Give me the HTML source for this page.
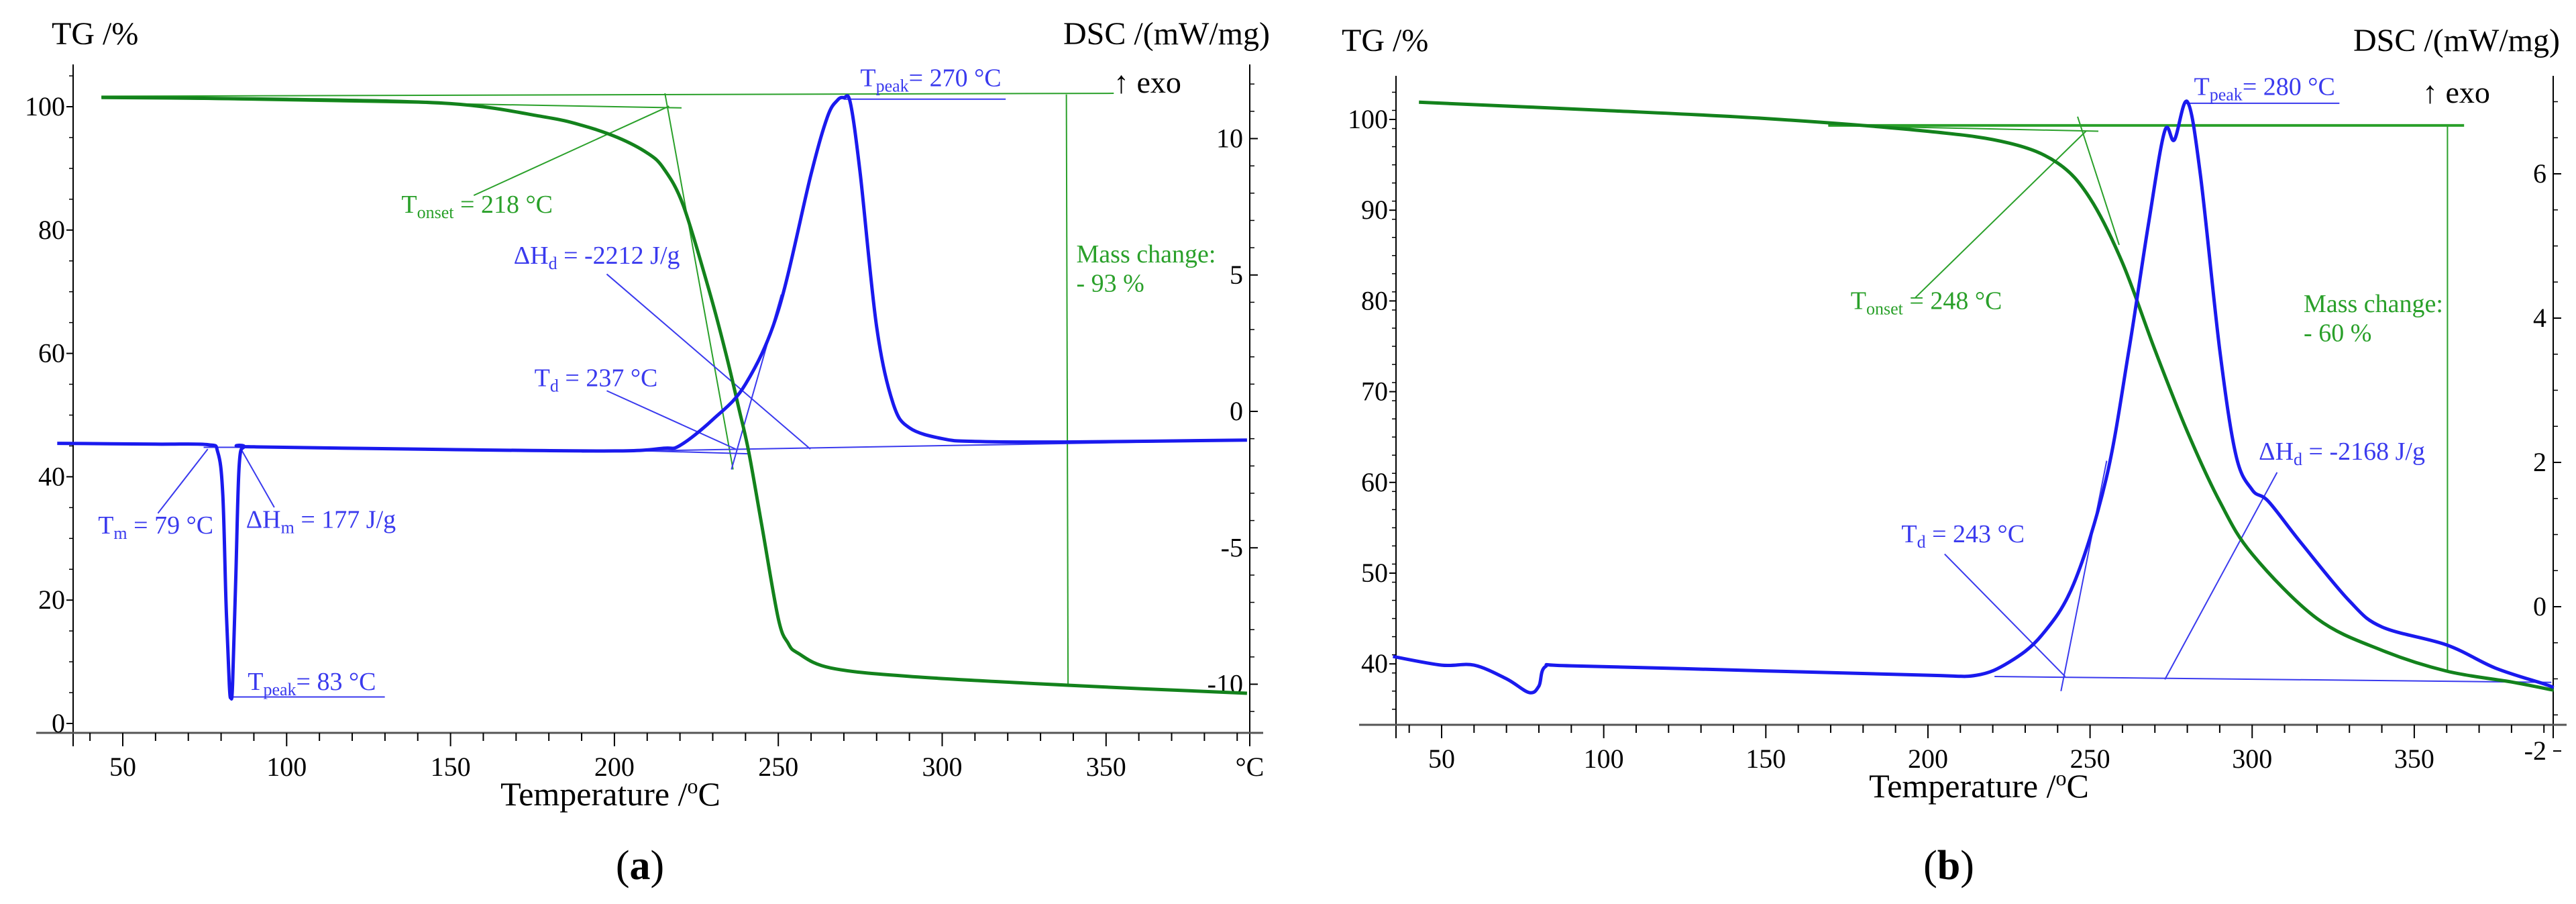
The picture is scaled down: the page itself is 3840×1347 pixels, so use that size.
<!DOCTYPE html>
<html><head><meta charset="utf-8"><style>
html,body{margin:0;padding:0;background:#fff;}
svg{display:block;font-family:"Liberation Serif",serif;}
</style></head><body>
<svg id="fig" width="3840" height="1347" viewBox="0 0 3840 1347"></svg>
<script>
// ---------- Data panel (a) ----------
const aTgT   = [43.5,100,150,178,190,201,210,215,221,229,234,238,241,245,250,253,256,266,291,342,393];
const aTgV   = [101.5,101.2,100.5,98.4,97,95,92.5,90,84,70,60,51,44,32,17,13,11.4,9,7.6,6.1,4.9];
const aDscT  = [30,60,76,79,80.5,81.5,82.5,83,83.5,84.5,85.5,87,90,150,200,215,220,230,240,250,260,265,268,270,272,275,280,285,290,300,310,340,393];
const aDscV  = [-1.17,-1.2,-1.22,-1.5,-3,-7,-10,-10.5,-10,-6,-2,-1.3,-1.3,-1.4,-1.45,-1.35,-1.25,-0.3,1.0,3.7,8.7,10.8,11.4,11.5,11.3,8.7,3.1,0.3,-0.6,-1.0,-1.1,-1.12,-1.05];
const aXTicks = [50,100,150,200,250,300,350];
const aYTicks = [0,20,40,60,80,100];
const aY2Ticks = [-10,-5,0,5,10];
// ---------- Data panel (b) ----------
const bTgT   = [43,100,150,200,225,240,250,260,270,280,290,300,320,340,360,380,393];
const bTgV   = [101.9,101,100.1,98.7,97.4,95.2,91.3,84.2,74.6,65.6,57.9,52.1,45,41.5,39.2,38,37.1];
const bDscT  = [35,50,60,70,77,80,82,90,150,200,215,225,235,245,255,262,268,273,276,280,284,290,295,300,305,315,330,340,360,375,390,393];
const bDscV  = [-0.69,-0.81,-0.81,-1.0,-1.19,-1.1,-0.83,-0.82,-0.89,-0.95,-0.95,-0.77,-0.4,0.32,1.78,3.56,5.3,6.59,6.47,7.0,6.0,3.56,2.1,1.62,1.46,0.89,0.08,-0.28,-0.53,-0.85,-1.07,-1.12];
const bXTicks = [50,100,150,200,250,300,350];
const bYTicks = [40,50,60,70,80,90,100];
const bY2Ticks = [-2,0,2,4,6];

const NS="http://www.w3.org/2000/svg";
const svg=document.getElementById('fig');
function el(tag,attrs,parent){const e=document.createElementNS(NS,tag);for(const k in attrs)e.setAttribute(k,attrs[k]);(parent||svg).appendChild(e);return e;}
function txt(x,y,s,size,fill,anchor,parent){const t=el('text',{x:x,y:y,'font-size':size,fill:fill||'#000','text-anchor':anchor||'start'},parent);t.textContent=s;return t;}
function smooth(pts){let d='M'+pts[0][0].toFixed(1)+' '+pts[0][1].toFixed(1);
  for(let i=0;i<pts.length-1;i++){const p0=pts[i-1]||pts[i],p1=pts[i],p2=pts[i+1],p3=pts[i+2]||p2;
    const c1=[p1[0]+(p2[0]-p0[0])/6,p1[1]+(p2[1]-p0[1])/6],c2=[p2[0]-(p3[0]-p1[0])/6,p2[1]-(p3[1]-p1[1])/6];
    d+=' C'+c1.map(v=>v.toFixed(1)).join(' ')+' '+c2.map(v=>v.toFixed(1)).join(' ')+' '+p2[0].toFixed(1)+' '+p2[1].toFixed(1);}
  return d;}

function panel(p){
  const g=el('g',{});
  
  
  const X=t=>p.x0+(t-50)*p.kx;
  const Y=v=>p.y0-(v-p.yv0)*p.ky;
  const Y2=v=>p.y20-v*p.ky2;
  const Z=(zx,zy)=>[zx*1.239+p.off, zy*0.869];
  const ax=el('line',{x1:p.axL,y1:p.axT,x2:p.axL,y2:p.axB+20,stroke:'#000','stroke-width':2},g);
  
  const ax2=el('line',{x1:p.axR,y1:p.axT,x2:p.axR,y2:p.axB+20,stroke:'#000','stroke-width':2},g);
  
  const xa=el('line',{x1:p.axL-55,y1:p.axB,x2:p.axR+20,y2:p.axB,stroke:'#555','stroke-width':3},g);
  
  for(let t=40;t<=390;t+=10){const x=X(t);if(x<p.axL-50||x>p.axR)continue;
    const tk=el('line',{x1:x,y1:p.axB,x2:x,y2:p.axB+(t%50==0?20:12),stroke:'#000','stroke-width':2},g);
    }
  p.xt.forEach(t=>{const l=txt(X(t),p.axB+64,String(t),40,'#000','middle',g);
    });
  p.yt.forEach(v=>{const l=txt(p.axL-12,Y(v)+13,String(v),40,'#000','end',g);
    
    const tk=el('line',{x1:p.axL-10,y1:Y(v),x2:p.axL,y2:Y(v),stroke:'#000','stroke-width':2},g);
    });
  for(let v=p.ymin;v<=p.ymax;v+=p.yminor){const y=Y(v);if(y<p.axT||y>p.axB)continue;
    const tk=el('line',{x1:p.axL-6,y1:y,x2:p.axL,y2:y,stroke:'#000','stroke-width':1.5},g);
    }
  p.y2t.forEach(v=>{const l=txt(p.axR-10,Y2(v)+13,String(v),40,'#000','end',g);
    
    const tk=el('line',{x1:p.axR,y1:Y2(v),x2:p.axR+12,y2:Y2(v),stroke:'#000','stroke-width':2},g);
    });
  for(let v=p.y2min;v<=p.y2max;v+=p.y2minor){const y=Y2(v);if(y<p.axT||y>p.axB)continue;
    const tk=el('line',{x1:p.axR,y1:y,x2:p.axR+7,y2:y,stroke:'#000','stroke-width':1.5},g);
    }
  let l=txt(p.tgX,p.tgY,'TG /%',48,'#000','start',g);
  l=txt(p.dscX,p.tgY,'DSC /(mW/mg)',48,'#000','end',g);
  l=txt(p.exoX,p.exoY,'↑ exo',46,'#000','start',g);
  l=txt(p.tempX,p.tempY,'Temperature /',50,'#000','middle',g);
  const sup=el('tspan',{'baseline-shift':'super','font-size':32},l);sup.textContent='o';
  const c=el('tspan',{},l);c.textContent='C';
  
  l=txt(p.capX,1310,'(',62,'#000','middle',g);
  const b=el('tspan',{'font-weight':'bold'},l);b.textContent=p.cap;const b2=el('tspan',{},l);b2.textContent=')';
  
  if(p.degC){l=txt(p.axR,p.axB+64,'°C',40,'#000','middle',g);}
  p.lines.forEach(([col,a,bq,c2,d,w])=>{const s=Z(a,bq),e=Z(c2,d);
    const ln=el('line',{x1:s[0],y1:s[1],x2:e[0],y2:e[1],stroke:col,'stroke-width':w||2},g);
    });
  const tg=el('path',{d:smooth(p.tgT.map((t,i)=>[X(t),Y(p.tgV[i])])),fill:'none',stroke:'#13821c','stroke-width':5,'stroke-linejoin':'round'},g);
  
  const ds=el('path',{d:smooth(p.dT.map((t,i)=>[X(t),Y2(p.dV[i])])),fill:'none',stroke:'#1a1aee','stroke-width':5,'stroke-linejoin':'round'},g);
  
  p.texts.forEach(([col,zx,zy,main,sub,rest,name])=>{const q=Z(zx,zy);
    const t=el('text',{x:q[0],y:q[1],'font-size':38,fill:col},g);
    const a1=el('tspan',{},t);a1.textContent=main;
    if(sub){const a2=el('tspan',{'font-size':26,dy:8},t);a2.textContent=sub;const a3=el('tspan',{dy:-8},t);a3.textContent=rest;}
    });
}

const G='#2aa02a',B='#3a3aee';
panel({name:'panel-a',off:0,x0:183,kx:4.886,y0:159,yv0:100,ky:9.19,y20:613,ky2:40.65,
  axL:109,axR:1863,axT:96,axB:1092,xt:aXTicks,yt:aYTicks,y2t:aY2Ticks,ymin:0,ymax:105,yminor:5,y2min:-12,y2max:12,y2minor:1,
  tgX:77,tgY:66,dscX:1893,exoX:1660,exoY:138,tempX:910,tempY:1200,capX:954,cap:'a',degC:true,
  tgT:aTgT,tgV:aTgV,dT:aDscT,dV:aDscV,
  lines:[[G,122,165,1340,160],[G,122,167,820,185],[G,800,160,882,805],[G,570,335,805,182],[G,1283,162,1285,1172],
    [B,1015,170,1210,170],[B,280,1195,463,1195],[B,190,880,250,770],[B,330,870,290,770],[B,245,767,300,767],
    [B,730,470,975,770],[B,730,670,885,770],[B,700,775,1500,755],[B,880,805,940,505],[B,750,772,900,778]],
  texts:[[G,483,365,'T','onset',' = 218 °C','tonset-label'],[B,618,452,'ΔH','d',' = -2212 J/g','dhd-label'],
    [B,643,662,'T','d',' = 237 °C','td-label'],[B,1035,148,'T','peak','= 270 °C','tpeak-label'],
    [B,118,915,'T','m',' = 79 °C','tm-label'],[B,296,905,'ΔH','m',' = 177 J/g','dhm-label'],
    [B,298,1183,'T','peak','= 83 °C','tpeak-melt-label'],[G,1295,450,'Mass change:','','','mass-change-label'],[G,1295,500,'- 93 %','','','mass-change-value']]
});
panel({name:'panel-b',off:1920,x0:2149,kx:4.833,y0:178,yv0:100,ky:13.52,y20:904,ky2:107.5,
  axL:2081,axR:3806,axT:113,axB:1080,xt:bXTicks,yt:bYTicks,y2t:bY2Ticks,ymin:35,ymax:105,yminor:2,y2min:-2,y2max:7,y2minor:0.5,
  tgX:2000,tgY:76,dscX:3816,exoX:3611,exoY:153,tempX:2950,tempY:1188,capX:2905,cap:'b',degC:false,
  tgT:bTgT,tgV:bTgV,dT:bDscT,dV:bDscV,
  lines:[[G,650,215,1415,215,4],[G,650,215,975,225],[G,950,200,1000,420],[G,755,510,960,225],[G,1395,215,1395,1150],
    [B,1080,177,1265,177],[B,790,950,935,1160],[B,1190,810,1055,1165],[B,850,1160,1520,1170],[B,930,1185,985,790]],
  texts:[[G,677,530,'T','onset',' = 248 °C','tonset-label'],[B,738,930,'T','d',' = 243 °C','td-label'],
    [B,1168,788,'ΔH','d',' = -2168 J/g','dhd-label'],[B,1090,163,'T','peak','= 280 °C','tpeak-label'],
    [G,1222,535,'Mass change:','','','mass-change-label'],[G,1222,585,'- 60 %','','','mass-change-value']]
});
</script>
</body></html>
